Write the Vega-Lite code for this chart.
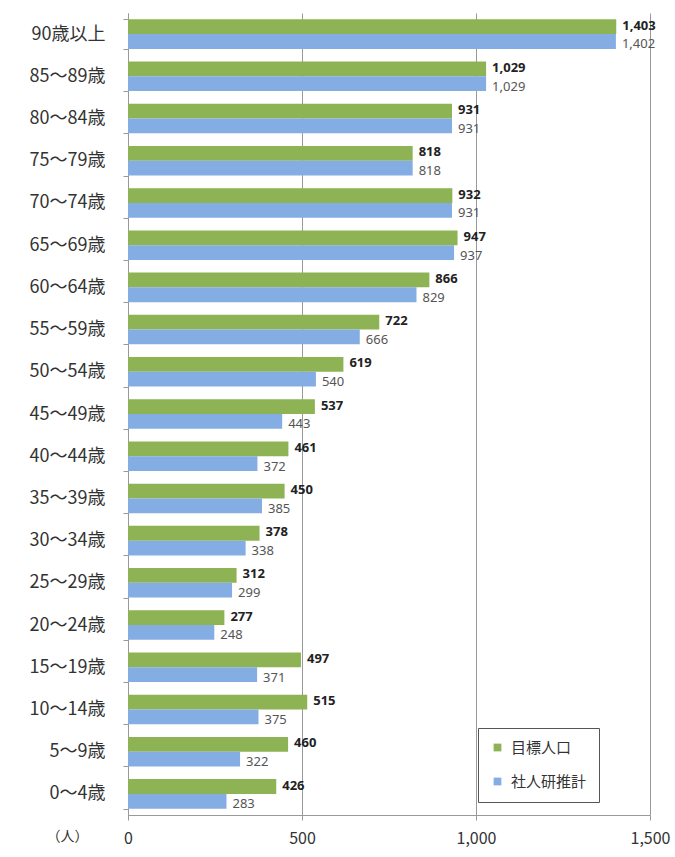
{
  "$schema": "https://vega.github.io/schema/vega-lite/v6.json",
  "width": 522,
  "height": 802,
  "autosize": {"type": "none"},
  "padding": {"left": 128, "top": 13, "right": 25, "bottom": 42},
  "background": "white",
  "config": {
    "view": {"stroke": null},
    "font": "Noto Sans CJK JP"
  },
  "data": {
    "values": [
      {"age": "90歳以上", "series": "目標人口", "value": 1403},
      {"age": "90歳以上", "series": "社人研推計", "value": 1402},
      {"age": "85～89歳", "series": "目標人口", "value": 1029},
      {"age": "85～89歳", "series": "社人研推計", "value": 1029},
      {"age": "80～84歳", "series": "目標人口", "value": 931},
      {"age": "80～84歳", "series": "社人研推計", "value": 931},
      {"age": "75～79歳", "series": "目標人口", "value": 818},
      {"age": "75～79歳", "series": "社人研推計", "value": 818},
      {"age": "70～74歳", "series": "目標人口", "value": 932},
      {"age": "70～74歳", "series": "社人研推計", "value": 931},
      {"age": "65～69歳", "series": "目標人口", "value": 947},
      {"age": "65～69歳", "series": "社人研推計", "value": 937},
      {"age": "60～64歳", "series": "目標人口", "value": 866},
      {"age": "60～64歳", "series": "社人研推計", "value": 829},
      {"age": "55～59歳", "series": "目標人口", "value": 722},
      {"age": "55～59歳", "series": "社人研推計", "value": 666},
      {"age": "50～54歳", "series": "目標人口", "value": 619},
      {"age": "50～54歳", "series": "社人研推計", "value": 540},
      {"age": "45～49歳", "series": "目標人口", "value": 537},
      {"age": "45～49歳", "series": "社人研推計", "value": 443},
      {"age": "40～44歳", "series": "目標人口", "value": 461},
      {"age": "40～44歳", "series": "社人研推計", "value": 372},
      {"age": "35～39歳", "series": "目標人口", "value": 450},
      {"age": "35～39歳", "series": "社人研推計", "value": 385},
      {"age": "30～34歳", "series": "目標人口", "value": 378},
      {"age": "30～34歳", "series": "社人研推計", "value": 338},
      {"age": "25～29歳", "series": "目標人口", "value": 312},
      {"age": "25～29歳", "series": "社人研推計", "value": 299},
      {"age": "20～24歳", "series": "目標人口", "value": 277},
      {"age": "20～24歳", "series": "社人研推計", "value": 248},
      {"age": "15～19歳", "series": "目標人口", "value": 497},
      {"age": "15～19歳", "series": "社人研推計", "value": 371},
      {"age": "10～14歳", "series": "目標人口", "value": 515},
      {"age": "10～14歳", "series": "社人研推計", "value": 375},
      {"age": "5～9歳", "series": "目標人口", "value": 460},
      {"age": "5～9歳", "series": "社人研推計", "value": 322},
      {"age": "0～4歳", "series": "目標人口", "value": 426},
      {"age": "0～4歳", "series": "社人研推計", "value": 283}
    ]
  },
  "encoding": {
    "y": {
      "field": "age",
      "type": "nominal",
      "sort": null,
      "scale": {"paddingInner": 0.3, "paddingOuter": 0.15},
      "axis": {
        "title": null,
        "labelFontSize": 18,
        "labelColor": "#333333",
        "labelPadding": 18,
        "domainColor": "#999999",
        "tickColor": "#999999",
        "tickBand": "extent",
        "tickSize": 5,
        "grid": false
      }
    },
    "yOffset": {
      "field": "series",
      "type": "nominal",
      "sort": ["目標人口", "社人研推計"],
      "scale": {"paddingInner": 0, "paddingOuter": 0}
    },
    "x": {
      "field": "value",
      "type": "quantitative",
      "scale": {"domain": [0, 1500], "nice": false},
      "axis": {
        "title": "（人）",
        "titleFontSize": 14,
        "titleFontWeight": "normal",
        "titleColor": "#333333",
        "titleAnchor": "start",
        "titleAlign": "left",
        "titleX": -82,
        "titleY": 14,
        "values": [0, 500, 1000, 1500],
        "labelExpr": "format(datum.value, ',')",
        "labelFontSize": 16,
        "labelColor": "#333333",
        "labelPadding": 10,
        "labelFlush": false,
        "domainColor": "#999999",
        "tickColor": "#999999",
        "tickSize": 5,
        "grid": true,
        "gridColor": "#999999",
        "gridWidth": 1
      }
    }
  },
  "layer": [
    {
      "mark": {"type": "bar"},
      "encoding": {
        "color": {
          "field": "series",
          "type": "nominal",
          "sort": ["目標人口", "社人研推計"],
          "scale": {"domain": ["目標人口", "社人研推計"], "range": ["#8DB354", "#84ADE3"]},
          "legend": {
            "title": null,
            "orient": "none",
            "legendX": 350,
            "legendY": 715,
            "direction": "vertical",
            "symbolType": "square",
            "symbolSize": 60,
            "symbolStrokeWidth": 0,
            "labelFontSize": 15,
            "labelColor": "#333333",
            "labelOffset": 6,
            "rowPadding": 18,
            "padding": 12,
            "strokeColor": "#555555",
            "fillColor": "white"
          }
        }
      }
    },
    {
      "transform": [{"filter": "datum.series === '目標人口'"}],
      "mark": {"type": "text", "align": "left", "baseline": "middle", "dx": 6, "dy": -1, "fontSize": 13, "fontWeight": "bold", "color": "#222222", "font": "Noto Sans"},
      "encoding": {"text": {"field": "value", "type": "quantitative", "format": ","}}
    },
    {
      "transform": [{"filter": "datum.series === '社人研推計'"}],
      "mark": {"type": "text", "align": "left", "baseline": "middle", "dx": 6, "dy": 3, "fontSize": 13, "color": "#555555", "font": "Noto Sans"},
      "encoding": {"text": {"field": "value", "type": "quantitative", "format": ","}}
    }
  ]
}
